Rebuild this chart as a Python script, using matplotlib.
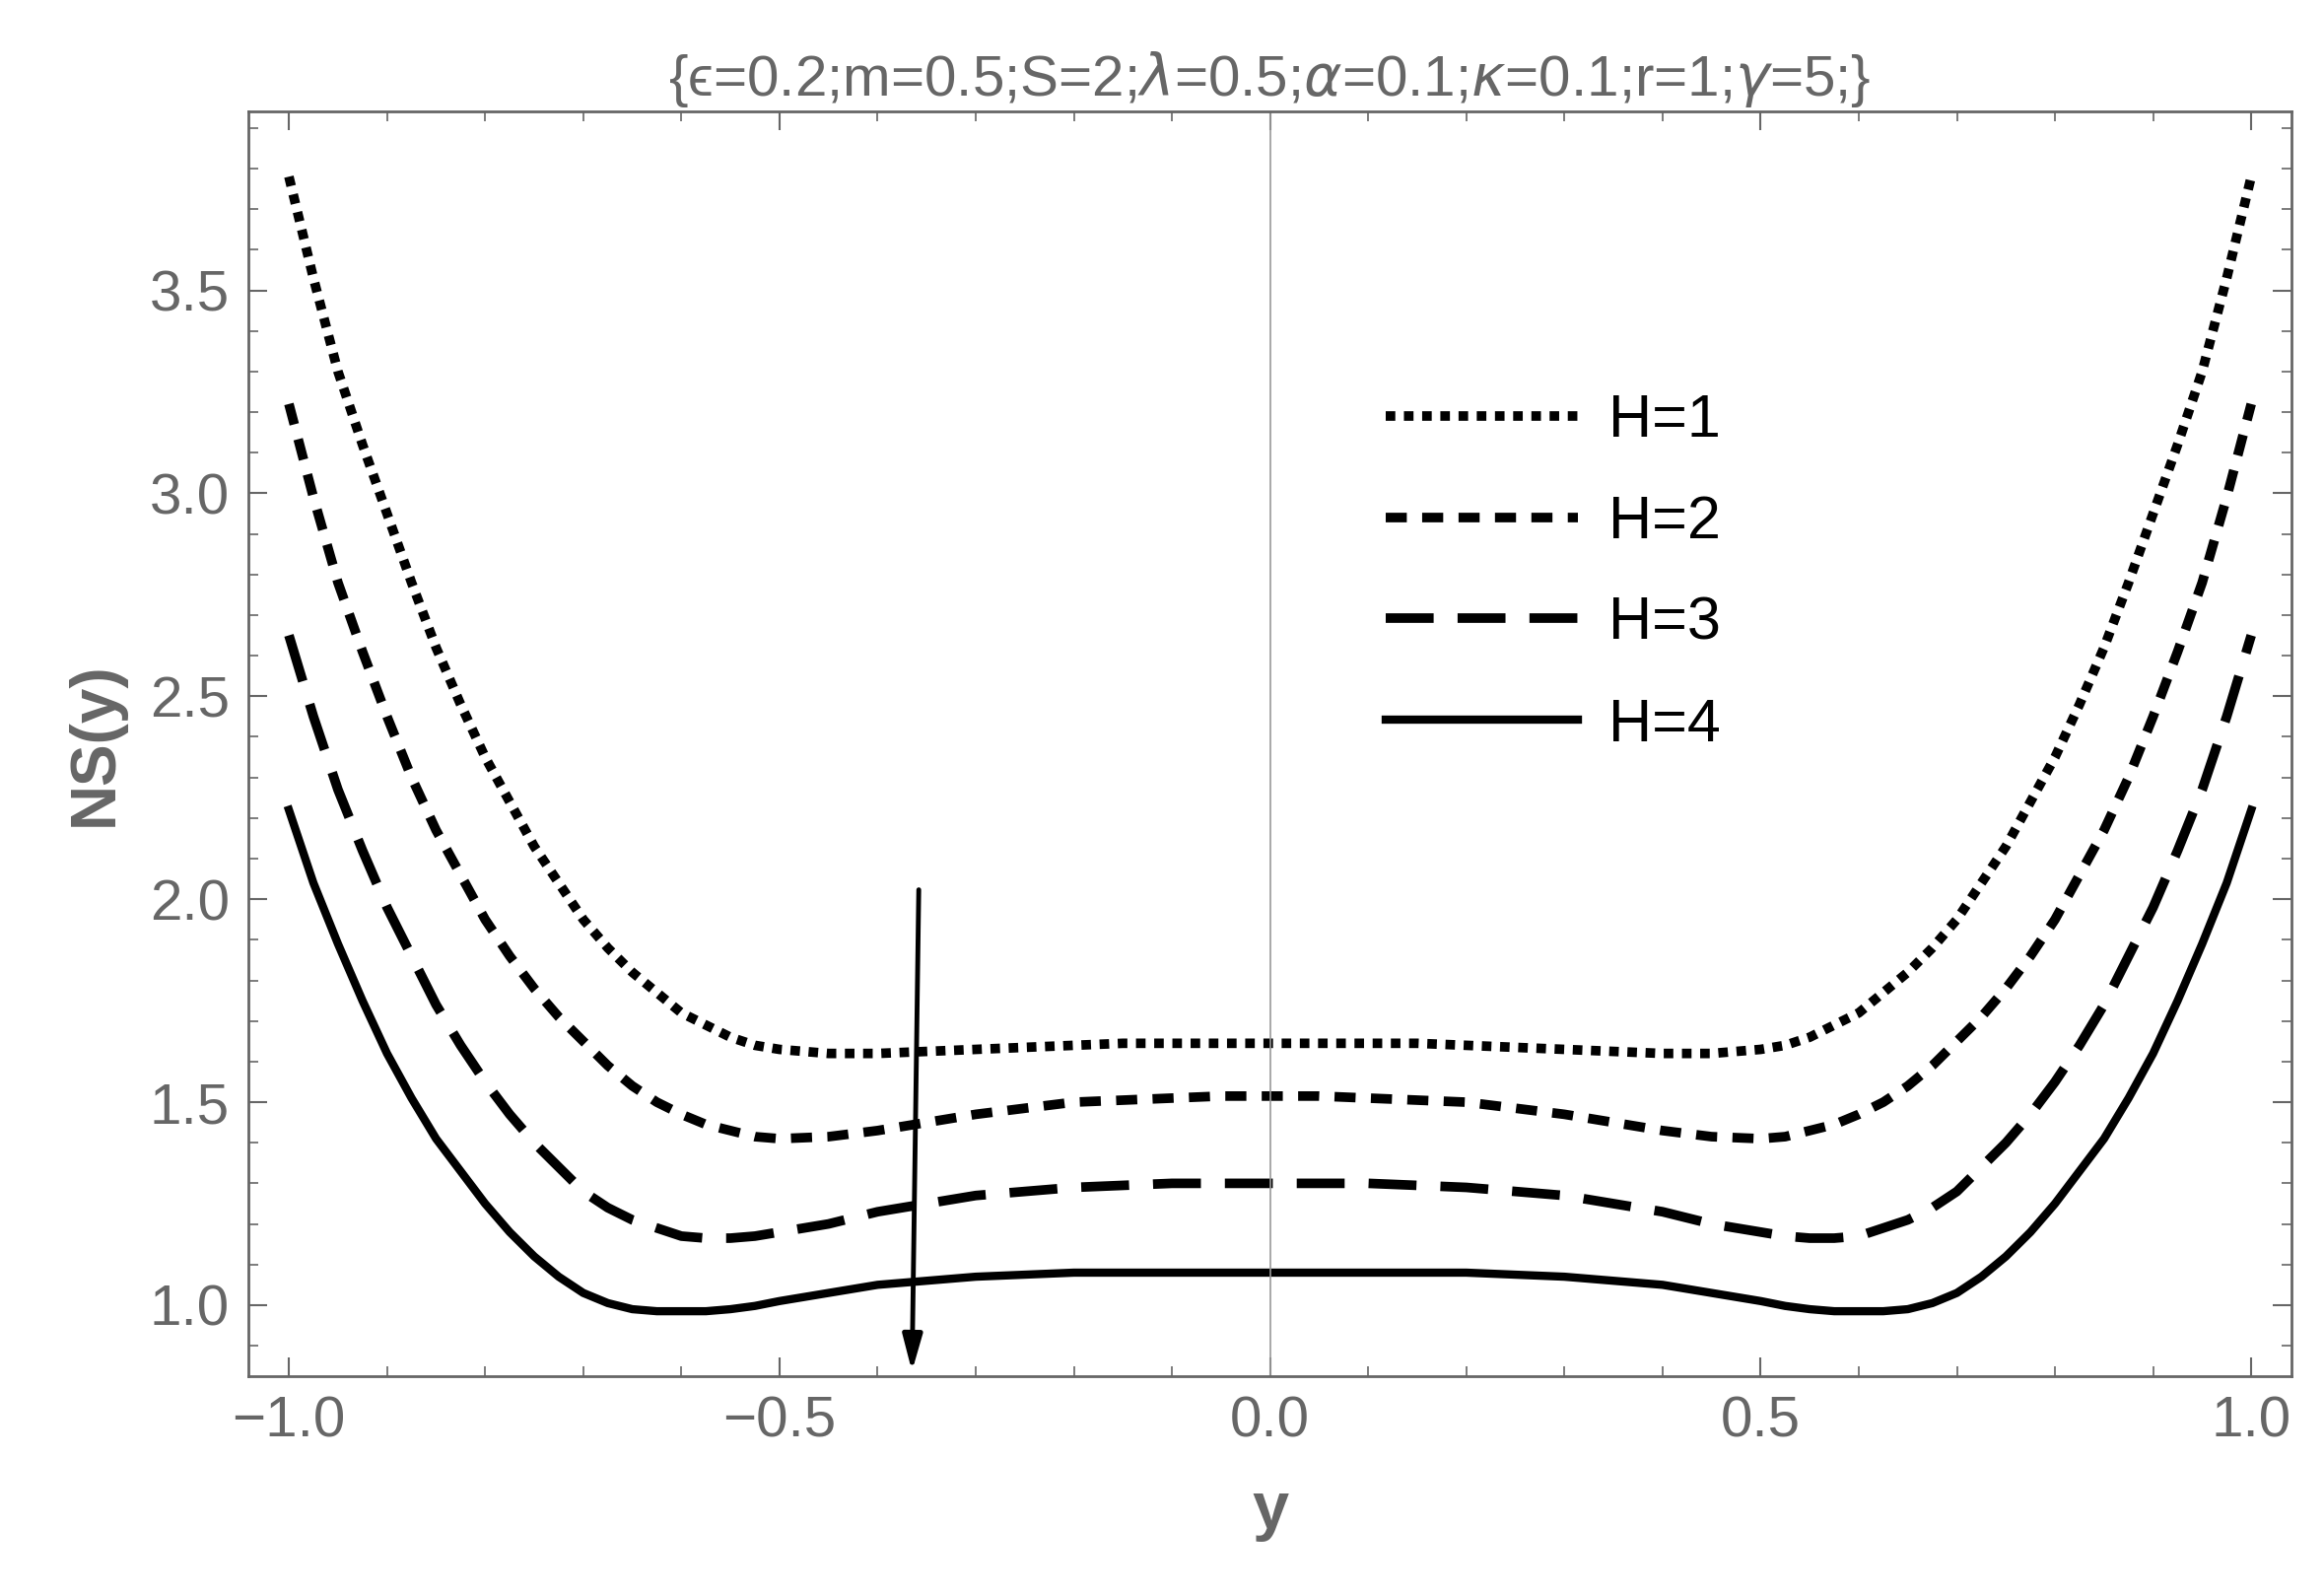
import matplotlib
matplotlib.use("Agg")
import matplotlib.pyplot as plt
import numpy as np
from matplotlib.ticker import MultipleLocator

plt.rcParams['font.family'] = ['Liberation Sans', 'DejaVu Sans']
plt.rcParams['mathtext.fontset'] = 'custom'
plt.rcParams['mathtext.it'] = 'DejaVu Sans:italic'
plt.rcParams['mathtext.rm'] = 'Liberation Sans'

y_left = [-1.0,-0.975,-0.95,-0.925,-0.9,-0.875,-0.85,-0.825,-0.8,-0.775,-0.75,-0.725,-0.7,-0.675,-0.65,-0.625,-0.6,-0.575,-0.55,-0.525,
          -0.5,-0.45,-0.4,-0.35,-0.3,-0.25,-0.2,-0.15,-0.1,-0.05,0.0]
H1 = [3.78,3.53,3.30,3.12,2.95,2.78,2.62,2.48,2.35,2.24,2.13,2.04,1.95,1.88,1.82,1.77,1.72,1.69,1.66,1.64,
      1.63,1.62,1.62,1.625,1.63,1.635,1.64,1.645,1.645,1.645,1.645]
H2 = [3.22,2.99,2.78,2.61,2.45,2.30,2.17,2.06,1.95,1.86,1.78,1.71,1.65,1.59,1.54,1.50,1.47,1.445,1.43,1.415,
      1.41,1.415,1.43,1.45,1.47,1.485,1.50,1.505,1.51,1.515,1.515]
H3 = [2.65,2.45,2.27,2.12,1.98,1.86,1.74,1.64,1.55,1.47,1.40,1.34,1.28,1.24,1.21,1.19,1.17,1.165,1.165,1.17,
      1.18,1.20,1.23,1.25,1.27,1.28,1.29,1.295,1.30,1.30,1.30]
H4 = [2.22,2.04,1.89,1.75,1.62,1.51,1.41,1.33,1.25,1.18,1.12,1.07,1.03,1.005,0.99,0.985,0.985,0.985,0.99,0.998,
      1.01,1.03,1.05,1.06,1.07,1.075,1.08,1.08,1.08,1.08,1.08]
labels = ["H=1","H=2","H=3","H=4"]

def full(v):
    return v + v[-2::-1]
yy = y_left + [-t for t in y_left[-2::-1]]

gray = '#666666'
fig = plt.figure(figsize=(23.58,16.19), dpi=100)
ax = fig.add_axes([0.107,0.138,0.879,0.792])
styles = [dict(ls=(0,(1,0.9)), lw=7), dict(ls=(0,(2.2,1.6)), lw=7),
          dict(ls=(0,(5,2.5)), lw=7), dict(ls='-', lw=6)]
for d,l,s in zip([H1,H2,H3,H4],labels,styles):
    ax.plot(yy, full(d), color='black', label=l, **s)
ax.axvline(0, color='#999999', lw=1.2)
ax.annotate('', xy=(-0.365,0.83), xytext=(-0.358,2.03),
            arrowprops=dict(arrowstyle='-|>,head_length=2.2,head_width=0.6', color='black', lw=3.5))
ax.set_xlim(-1.041,1.041)
ax.set_ylim(0.826,3.94)
ax.xaxis.set_major_locator(MultipleLocator(0.5))
ax.xaxis.set_minor_locator(MultipleLocator(0.1))
ax.yaxis.set_major_locator(MultipleLocator(0.5))
ax.yaxis.set_minor_locator(MultipleLocator(0.1))
ax.xaxis.set_major_formatter(matplotlib.ticker.FuncFormatter(lambda v,p: f"{v:.1f}".replace('-', '\u2212')))
ax.yaxis.set_major_formatter(matplotlib.ticker.FuncFormatter(lambda v,p: f"{v:.1f}"))
ax.tick_params(which='both', direction='in', top=True, right=True, colors=gray, labelsize=42, pad=14)
ax.tick_params(which='major', length=14, width=1.5)
ax.tick_params(which='minor', length=7, width=1.2)
for sp in ax.spines.values():
    sp.set_color(gray); sp.set_linewidth(2)
ax.set_xlabel('y', fontsize=48, fontweight='bold', color=gray, labelpad=24)
ax.set_ylabel('NS(y)', fontsize=46, fontweight='bold', color=gray, labelpad=18)
ax.set_title('{\u03f5=0.2;m=0.5;S=2;$\\lambda$=0.5;$\\alpha$=0.1;$\\kappa$=0.1;r=1;$\\gamma$=5;}',
             fontsize=42, color=gray, pad=12)
ax.legend(loc='upper left', bbox_to_anchor=(0.53,0.82), frameon=False, fontsize=44,
          handlelength=3.2, labelspacing=0.75, handletextpad=0.5)
fig.savefig('out.png', dpi=100)
